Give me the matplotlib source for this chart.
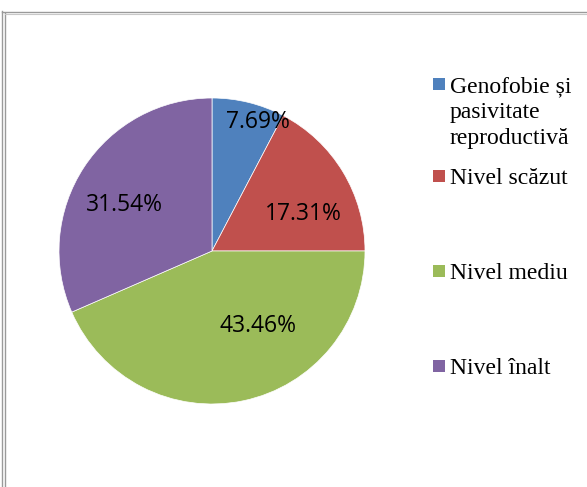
import matplotlib
matplotlib.use("Agg")
import matplotlib.pyplot as plt
from matplotlib.lines import Line2D
from matplotlib.patches import Rectangle

# data
labels = ["Genofobie și\npasivitate\nreproductivă", "Nivel scăzut", "Nivel mediu", "Nivel înalt"]
values = [7.69, 17.31, 43.46, 31.54]
colors = ["#4F81BD", "#C0504D", "#9BBB59", "#8064A2"]

W, H = 587, 487
fig = plt.figure(figsize=(W / 100, H / 100), dpi=100)

# frame around the chart (double line on the left, like the source doc)
def px_line(x0, y0, x1, y1, **kw):
    fig.add_artist(Line2D([x0 / W, x1 / W], [1 - y0 / H, 1 - y1 / H],
                          transform=fig.transFigure, **kw))

px_line(1.5, 11, 1.5, H, color="#9a9a9a", lw=1.0)
px_line(4.5, 13, 4.5, H, color="#9a9a9a", lw=1.0)
px_line(1.5, 11.5, W, 11.5, color="#9a9a9a", lw=1.0)
px_line(4.5, 13.5, W, 13.5, color="#c8c8c8", lw=0.8)

# pie axes: centre (212, 251), radius 153 px
cx, cy, r = 212, 251, 153
ax = fig.add_axes([(cx - r) / W, 1 - (cy + r) / H, 2 * r / W, 2 * r / H])
ax.pie(values, colors=colors, startangle=90, counterclock=False, radius=1,
       wedgeprops=dict(linewidth=0.5, edgecolor="white"))
ax.set_xlim(-1, 1)
ax.set_ylim(-1, 1)
ax.set_aspect("equal")
ax.axis("off")

# data labels (positions chosen like Excel's best fit)
label_pos = [(0.30, 0.84), (0.60, 0.24), (0.30, -0.49), (-0.57, 0.30)]
for v, (x, y) in zip(values, label_pos):
    ax.text(x, y, f"{v:.2f}%", ha="center", va="center",
            fontsize=16.5, family="Open Sans", color="black")

# legend drawn by hand to mimic the spacing (baseline of first line, px)
leg_y = [92, 184, 279, 374]
line_step = 26
for lab, col, y in zip(labels, colors, leg_y):
    fig.add_artist(Rectangle((433 / W, 1 - (y - 2) / H), 12 / W, 12 / H,
                             transform=fig.transFigure, facecolor=col, edgecolor="none"))
    last_base = y + lab.count("\n") * line_step
    fig.text(450 / W, 1 - last_base / H, lab, ha="left", va="baseline",
             fontsize=17, family="Liberation Serif", color="black", linespacing=1.3)

fig.savefig("out.png", dpi=100)
